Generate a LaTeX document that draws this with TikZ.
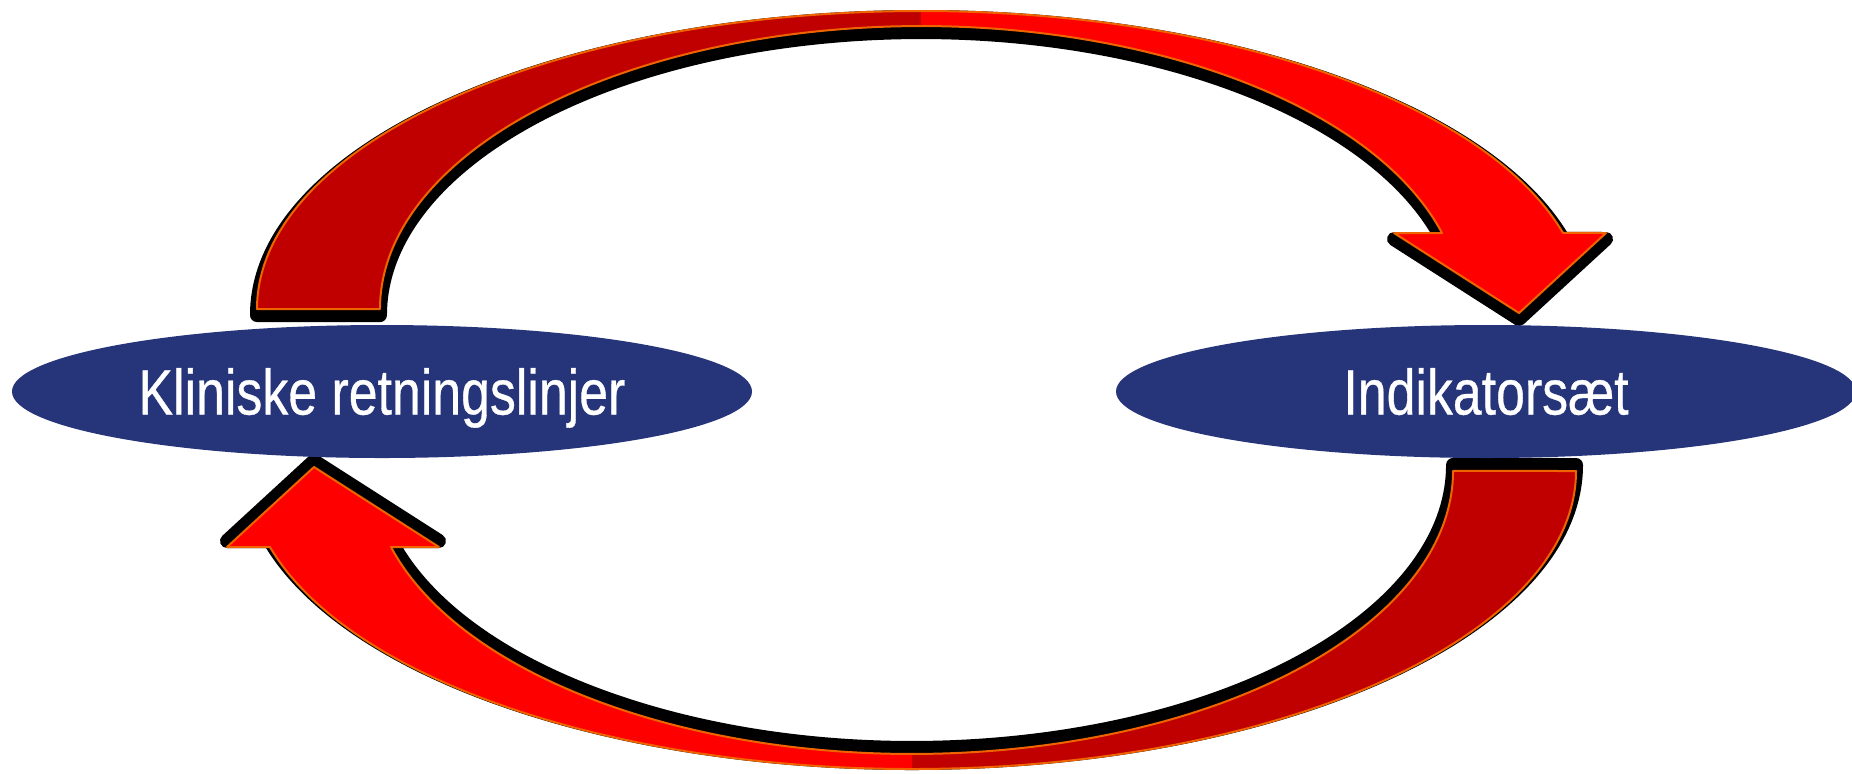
\documentclass[tikz,border=0pt]{standalone}
\usepackage{fontspec}
\newfontfamily\narrowsans[FakeStretch=0.81, FakeBold=0.5]{Liberation Sans}
\usetikzlibrary{shapes.geometric}
\definecolor{navy}{RGB}{38,52,122}
\definecolor{backred}{RGB}{192,0,0}
\definecolor{rim}{RGB}{240,100,0}

\newcommand{\cyclearrow}{%
  \filldraw[black, line width=7pt, line join=round, shift={(0,6)}]
    (-664,0) arc[start angle=180, end angle=345.2, x radius=664, y radius=298]
    -- (685,-76) -- (598,4) -- (473,-76) -- (521,-76)
    arc[start angle=344.4, end angle=180, x radius=541, y radius=283] -- cycle;
  \fill[backred] (-664,0) arc[start angle=180, end angle=270, x radius=664, y radius=298]
    -- (0,-283) arc[start angle=270, end angle=180, x radius=541, y radius=283] -- cycle;
  \fill[red] (0,-298) arc[start angle=270, end angle=345.2, x radius=664, y radius=298]
    -- (685,-76) -- (598,4) -- (473,-76) -- (521,-76)
    arc[start angle=344.4, end angle=270, x radius=541, y radius=283] -- cycle;
  \draw[rim, line width=1pt, line join=round]
    (-664,0) arc[start angle=180, end angle=345.2, x radius=664, y radius=298]
    -- (685,-76) -- (598,4) -- (473,-76) -- (521,-76)
    arc[start angle=344.4, end angle=180, x radius=541, y radius=283] -- cycle;}

\begin{document}
\begin{tikzpicture}[x=0.5pt, y=-0.5pt,
  oval/.style={ellipse, fill=navy, text=white, inner sep=0pt,
    minimum width=370pt, minimum height=66.5pt, text height=23pt, text depth=0pt,
    font=\narrowsans\fontsize{32}{38}\selectfont}]
\useasboundingbox (0,0) rectangle (1852,773);
\coordinate (upper) at (921,309);
\coordinate (lower) at (912,471);
\begin{scope}[shift={(upper)}]
\cyclearrow
\end{scope}
\begin{scope}[shift={(lower)}, rotate=180]
\cyclearrow
\end{scope}
\node[oval] (guide) at (382,391.5) {Kliniske retningslinjer};
\node[oval] (set) at (1486,391.5) {Indikatorsæt};
\end{tikzpicture}
\end{document}
